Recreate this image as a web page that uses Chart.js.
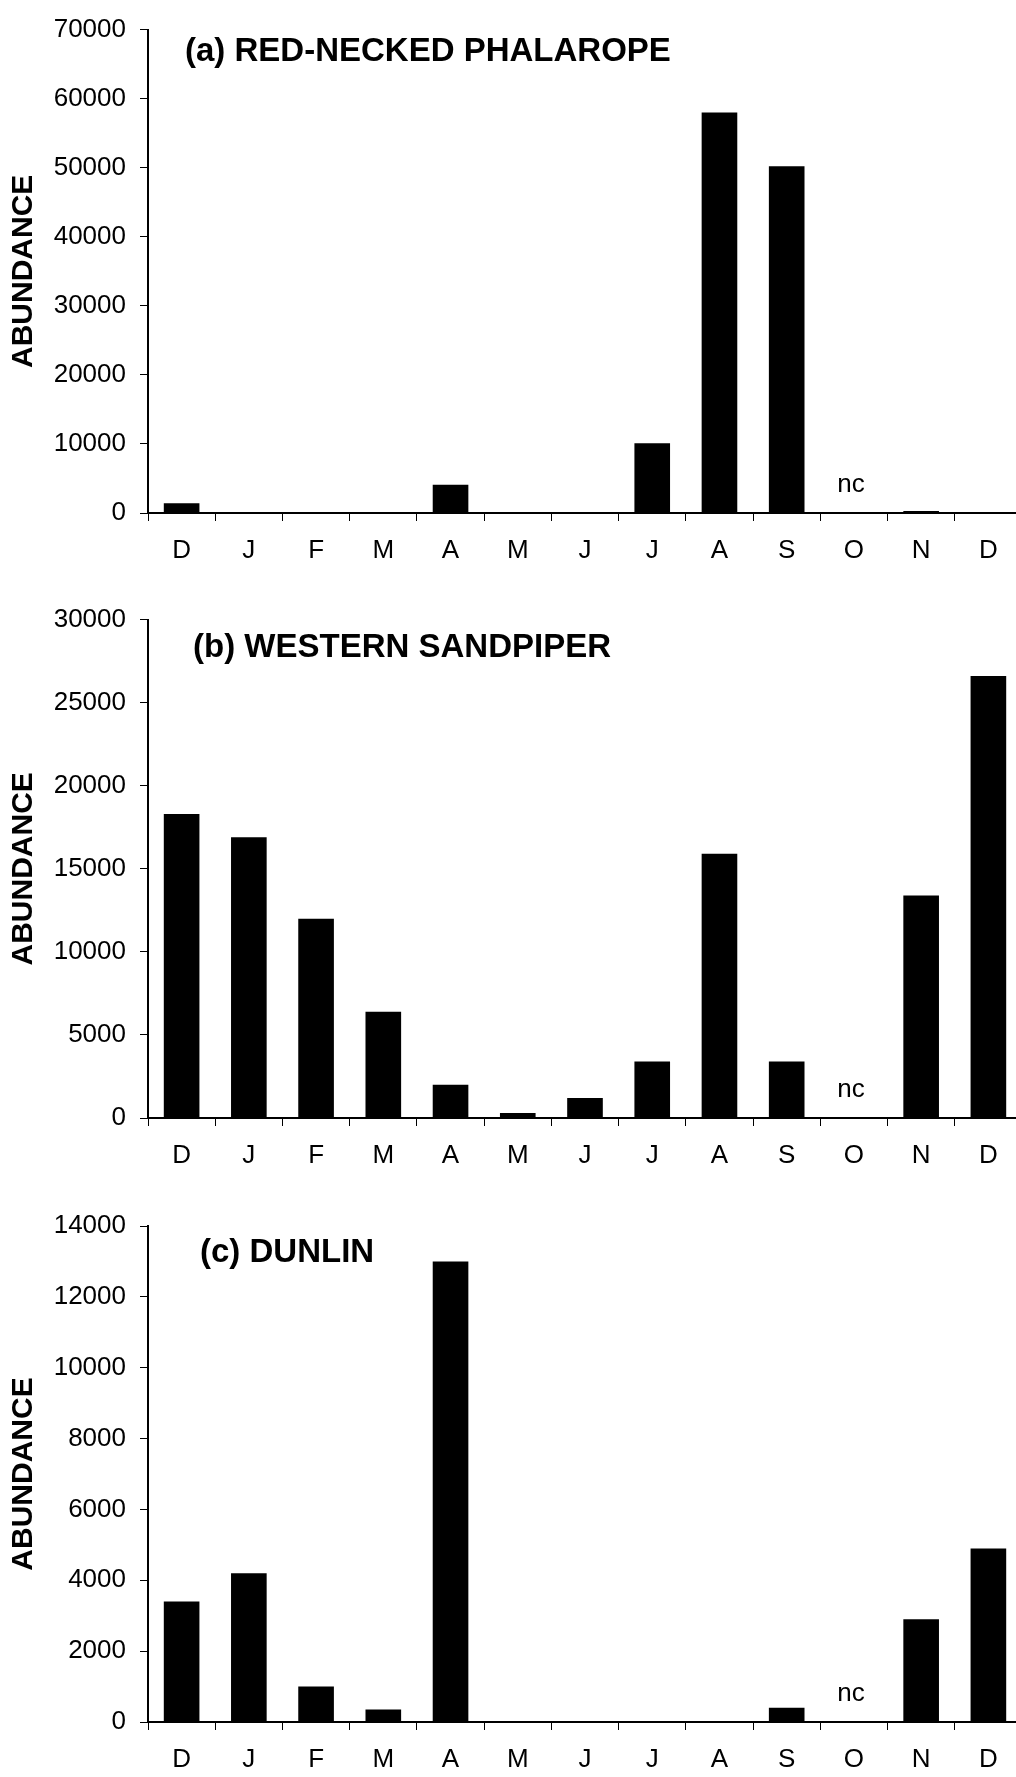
<!DOCTYPE html>
<html>
<head>
<meta charset="utf-8">
<script src="https://cdn.jsdelivr.net/npm/chart.js@4.4.1/dist/chart.umd.min.js"></script>
<style>
html, body { margin: 0; padding: 0; background: #fff; overflow: hidden; width: 1016px; height: 1777px; }
.panel { position: absolute; left: 0; }
canvas { display: block; }
</style>
</head>
<body>
<div class="panel" style="top:0px"><canvas id="ca" width="1024" height="590"></canvas></div>
<div class="panel" style="top:590px"><canvas id="cb" width="1024" height="600"></canvas></div>
<div class="panel" style="top:1190px"><canvas id="cc" width="1024" height="587"></canvas></div>
<script>
// ---- data ----
const months = ['D', 'J', 'F', 'M', 'A', 'M', 'J', 'J', 'A', 'S', 'O', 'N', 'D'];
// null = not counted ("nc")
const phalarope = [1400, 100, 50, 0, 4100, 100, 150, 10100, 58000, 50200, null, 300, 0];
const sandpiper = [18300, 16900, 12000, 6400, 2000, 300, 1200, 3400, 15900, 3400, null, 13400, 26600];
const dunlin = [3400, 4200, 1000, 350, 13000, 20, 20, 10, 0, 400, null, 2900, 4900];
const panelTitles = ['(a) RED-NECKED PHALAROPE', '(b) WESTERN SANDPIPER', '(c) DUNLIN'];
const yMaxes = [70000, 30000, 14000];
const ySteps = [10000, 5000, 2000];
const yAxisTitle = 'ABUNDANCE';
const notCountedText = 'nc';

const FONT = '"Liberation Sans", Arial, Helvetica, sans-serif';

const annotPlugin = {
  id: 'annot',
  afterDraw(chart, args, o) {
    const { ctx, chartArea, scales } = chart;
    ctx.save();
    ctx.fillStyle = '#000';
    ctx.font = 'bold 33px ' + FONT;
    ctx.textAlign = 'left';
    ctx.textBaseline = 'alphabetic';
    ctx.fillText(o.title, o.titleX, chartArea.top + o.titleDy);
    ctx.font = '26px ' + FONT;
    ctx.textAlign = 'center';
    const vals = chart.data.datasets[0].data;
    vals.forEach((v, i) => {
      if (v === null) {
        ctx.fillText(notCountedText, scales.x.getPixelForValue(i) - 3, scales.y.getPixelForValue(0) - 21);
      }
    });
    ctx.restore();
  }
};

function makeChart(id, values, yMax, yStep, title, padTop, xHeight, titleX, titleDy) {
  return new Chart(document.getElementById(id), {
    type: 'bar',
    data: {
      labels: months,
      datasets: [{
        data: values,
        backgroundColor: '#000',
        borderWidth: 0,
        barPercentage: 0.53,
        categoryPercentage: 1.0
      }]
    },
    options: {
      responsive: false,
      animation: false,
      layout: { padding: { top: padTop, right: 2, left: 0, bottom: 0 } },
      plugins: {
        legend: { display: false },
        tooltip: { enabled: false },
        annot: { title: title, titleX: titleX, titleDy: titleDy }
      },
      scales: {
        x: {
          offset: true,
          ticks: { color: '#000', font: { family: FONT, size: 26 }, padding: 14, maxRotation: 0, autoSkip: false },
          grid: { offset: true, drawOnChartArea: false, drawTicks: true, tickLength: 8, color: '#000', lineWidth: 1 },
          border: { display: true, color: '#000', width: 2 },
          afterFit: s => { s.height = xHeight; }
        },
        y: {
          min: 0,
          max: yMax,
          ticks: { stepSize: yStep, color: '#000', font: { family: FONT, size: 26 }, padding: 14, callback: v => String(v) },
          grid: { drawOnChartArea: false, drawTicks: true, tickLength: 8, color: '#000', lineWidth: 1 },
          border: { display: true, color: '#000', width: 2 },
          title: { display: true, text: yAxisTitle, color: '#000', font: { family: FONT, size: 30, weight: 'bold' }, padding: { top: 6, bottom: 0 } },
          afterFit: s => { s.width = 148; }
        }
      }
    },
    plugins: [annotPlugin]
  });
}

makeChart('ca', phalarope, yMaxes[0], ySteps[0], panelTitles[0], 22, 77, 185, 31);
makeChart('cb', sandpiper, yMaxes[1], ySteps[1], panelTitles[1], 27, 72, 193, 37);
makeChart('cc', dunlin, yMaxes[2], ySteps[2], panelTitles[2], 36, 55, 200, 36);
</script>
</body>
</html>
